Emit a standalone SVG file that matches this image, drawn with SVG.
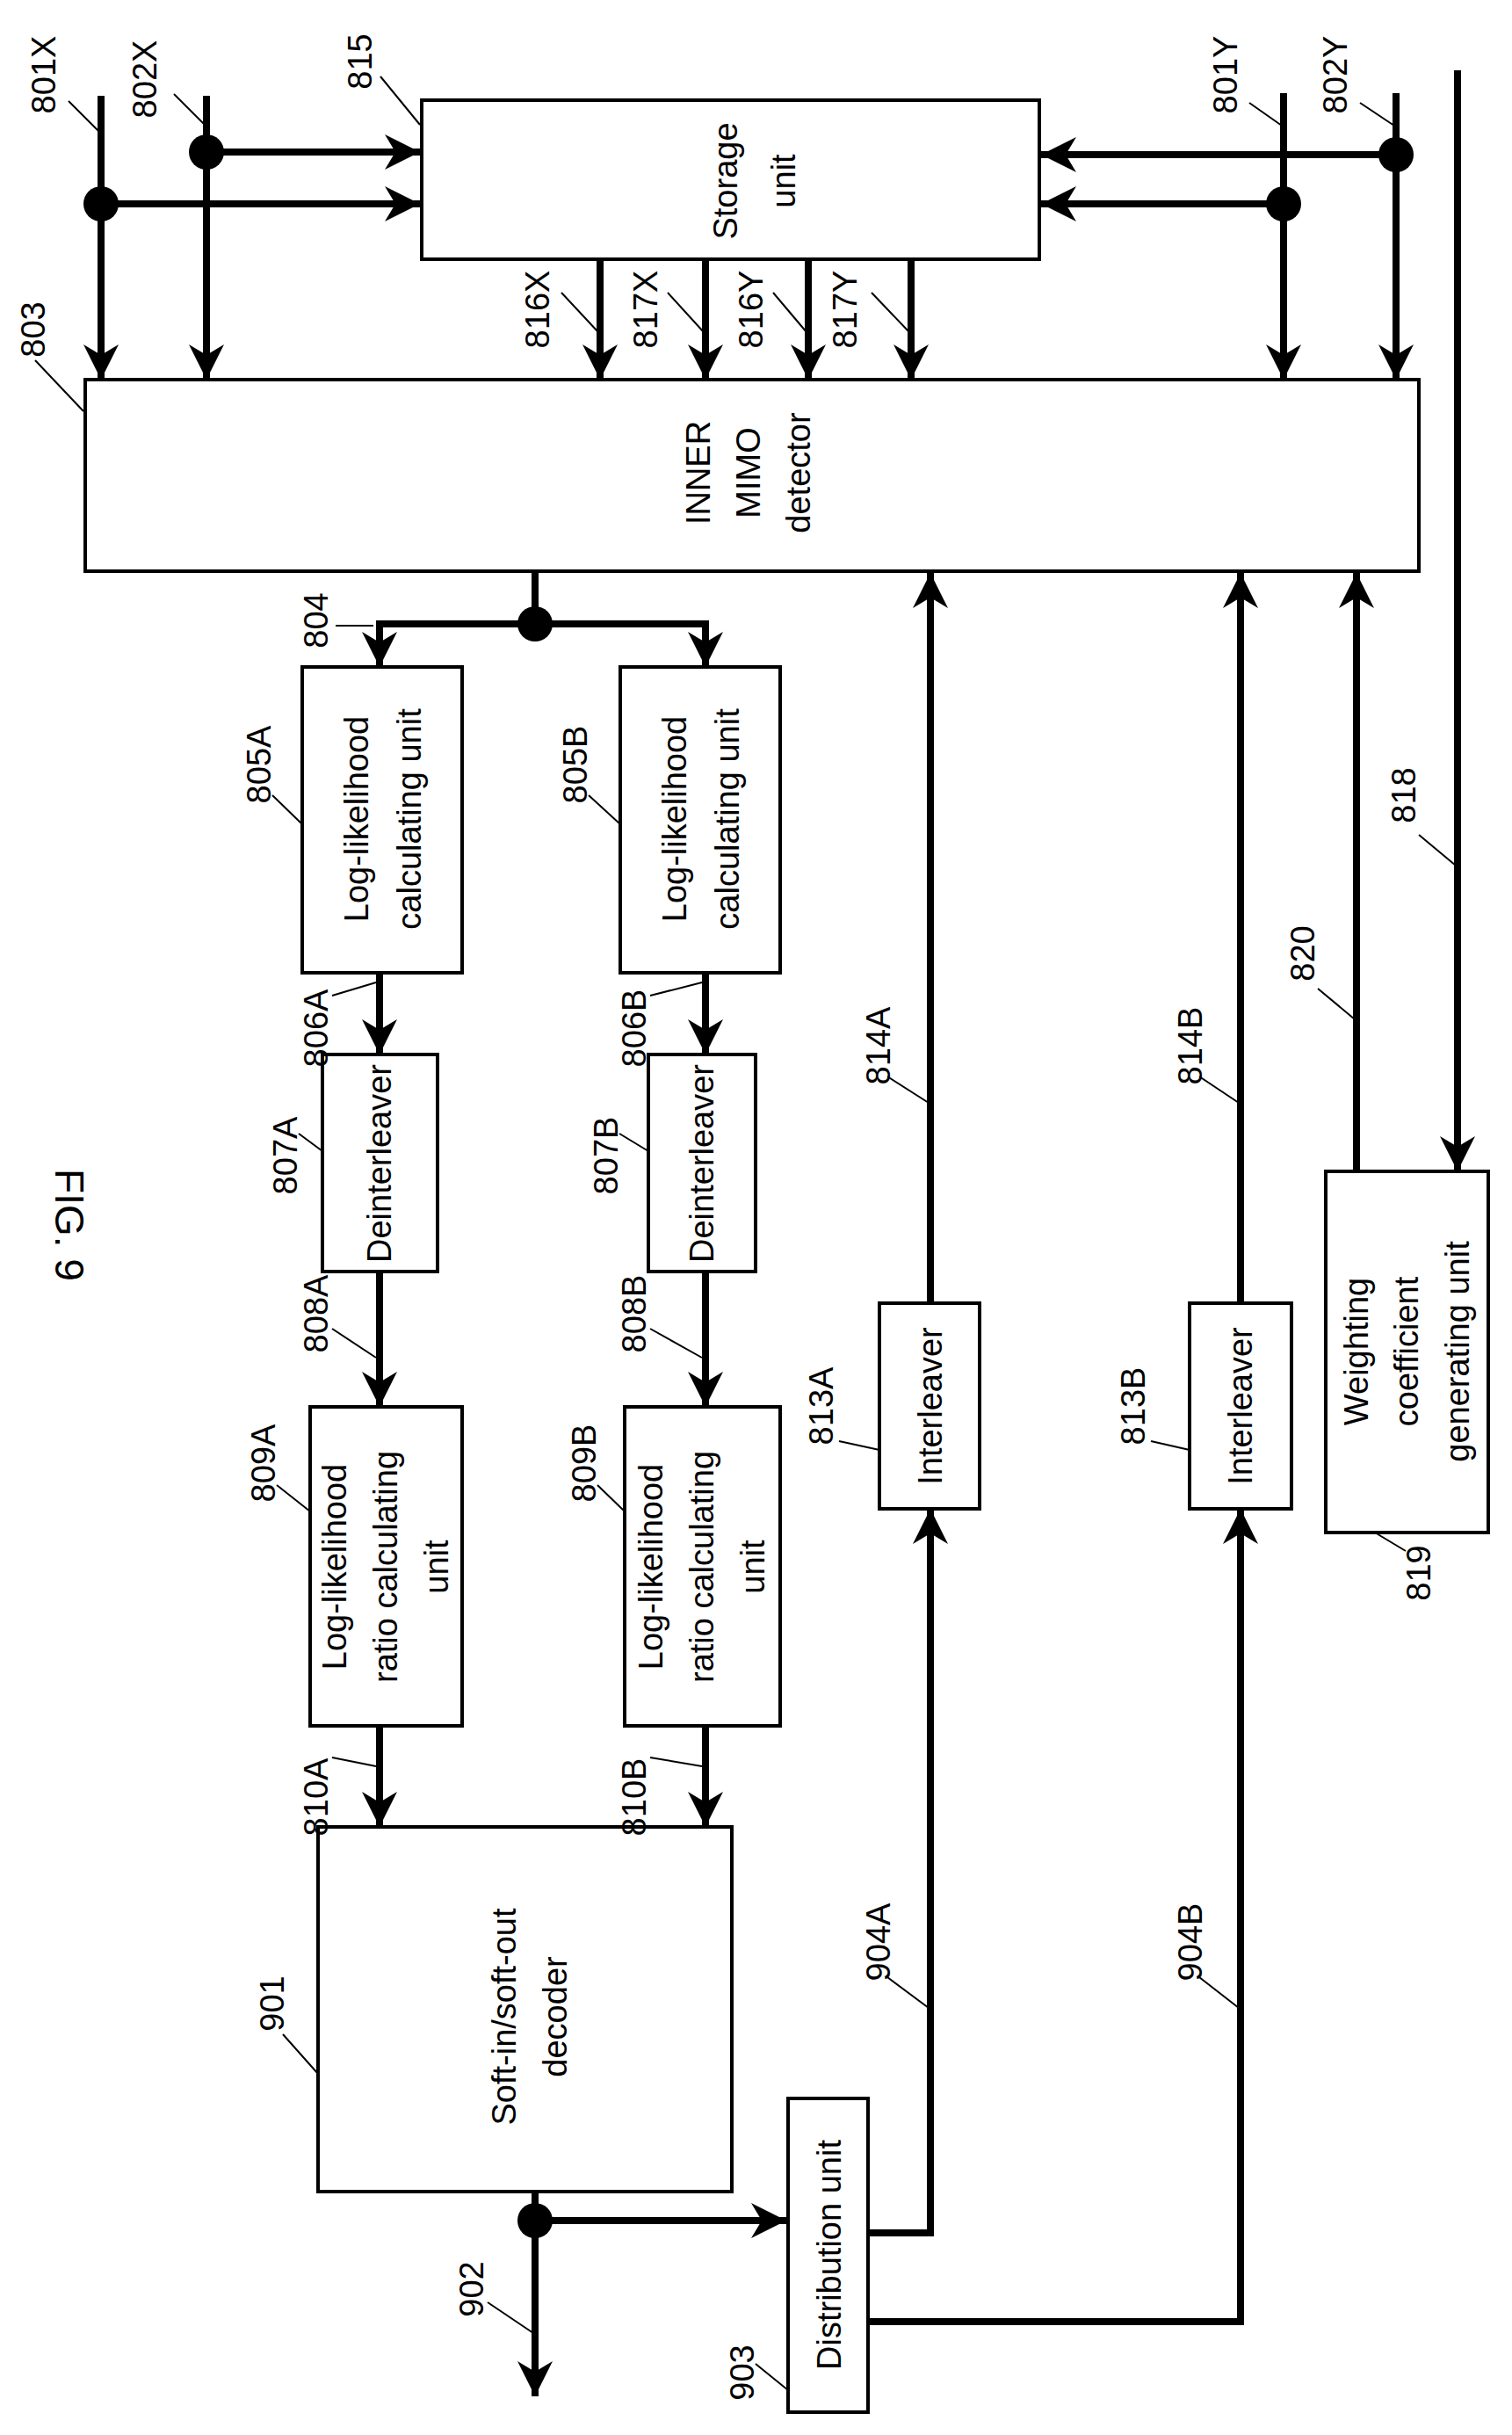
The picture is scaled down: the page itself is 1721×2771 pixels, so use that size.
<svg xmlns="http://www.w3.org/2000/svg" width="1721" height="2771" viewBox="0 0 1721 2771">
<defs>
<marker id="ah" viewBox="0 0 10 10" refX="10" refY="5" markerWidth="5" markerHeight="5" markerUnits="strokeWidth" orient="auto"><path d="M0,0 L10,5 L0,10 L3,5 z" fill="#000"/></marker>
<style>
.box{fill:#fff;stroke:#000;stroke-width:4}
.w{fill:none;stroke:#000;stroke-width:8}
.a{fill:none;stroke:#000;stroke-width:8;marker-end:url(#ah)}
.ld{fill:none;stroke:#000;stroke-width:2}
text{font-family:"Liberation Sans",Arial,sans-serif;font-size:38px;text-anchor:middle;dominant-baseline:central;fill:#000}
.big{font-size:46px}
</style>
</defs>
<rect width="1721" height="2771" fill="#fff"/>
<g id="connectors">
<path class="a" d="M115,109 V432"/>
<path class="a" d="M235,109 V432"/>
<path class="a" d="M235,173 H478"/>
<path class="a" d="M115,232 H478"/>
<path class="a" d="M683,295 V432"/>
<path class="a" d="M803,295 V432"/>
<path class="a" d="M920,295 V432"/>
<path class="a" d="M1037,295 V432"/>
<path class="a" d="M1461,106 V432"/>
<path class="a" d="M1589,106 V432"/>
<path class="a" d="M1589,176 H1185"/>
<path class="a" d="M1461,232 H1185"/>
<path class="w" d="M1659,80 V1300"/>
<path class="a" d="M1659,1200 V1333"/>
<path class="w" d="M609,650 V710"/>
<path class="a" d="M609,710 H432 V759"/>
<path class="a" d="M609,710 H803 V759"/>
<path class="a" d="M432,1107 V1200"/>
<path class="a" d="M803,1107 V1200"/>
<path class="a" d="M432,1447 V1601"/>
<path class="a" d="M803,1447 V1601"/>
<path class="a" d="M432,1964 V2079"/>
<path class="a" d="M803,1964 V2079"/>
<path class="a" d="M609,2494 V2727"/>
<path class="a" d="M609,2527 H895"/>
<path class="a" d="M988,2541 H1059 V1717"/>
<path class="a" d="M1059,1483 V652"/>
<path class="a" d="M988,2642 H1412 V1717"/>
<path class="a" d="M1412,1483 V652"/>
<path class="a" d="M1544,1333 V652"/>
<ellipse cx="235" cy="173" rx="20" ry="20"/>
<ellipse cx="115" cy="232" rx="20" ry="20"/>
<ellipse cx="1589" cy="176" rx="20" ry="20"/>
<ellipse cx="1461" cy="232" rx="20" ry="20"/>
<ellipse cx="609" cy="710" rx="20" ry="20"/>
<ellipse cx="609" cy="2527" rx="20" ry="20"/>
</g>
<g id="n815"><rect class="box" x="480" y="114" width="703" height="181"/>
<text transform="translate(826,206) rotate(-90)">Storage</text><text transform="translate(892,206) rotate(-90)">unit</text></g>
<g id="n803"><rect class="box" x="97" y="432" width="1518" height="218"/>
<text transform="translate(795,538) rotate(-90)">INNER</text><text transform="translate(852,538) rotate(-90)">MIMO</text><text transform="translate(909,538) rotate(-90)">detector</text></g>
<g id="n805A"><rect class="box" x="344" y="759" width="182" height="348"/>
<text transform="translate(406,932) rotate(-90)">Log-likelihood</text><text transform="translate(466,932) rotate(-90)">calculating unit</text></g>
<g id="n805B"><rect class="box" x="706" y="759" width="182" height="348"/>
<text transform="translate(768,932) rotate(-90)">Log-likelihood</text><text transform="translate(828,932) rotate(-90)">calculating unit</text></g>
<g id="n807A"><rect class="box" x="367" y="1200" width="131" height="247"/>
<text transform="translate(432,1324) rotate(-90)">Deinterleaver</text></g>
<g id="n807B"><rect class="box" x="738" y="1200" width="122" height="247"/>
<text transform="translate(799,1324) rotate(-90)">Deinterleaver</text></g>
<g id="n809A"><rect class="box" x="353" y="1601" width="173" height="363"/>
<text transform="translate(381,1783) rotate(-90)">Log-likelihood</text><text transform="translate(439,1783) rotate(-90)">ratio calculating</text><text transform="translate(497,1783) rotate(-90)">unit</text></g>
<g id="n809B"><rect class="box" x="711" y="1601" width="177" height="363"/>
<text transform="translate(741,1783) rotate(-90)">Log-likelihood</text><text transform="translate(799,1783) rotate(-90)">ratio calculating</text><text transform="translate(857,1783) rotate(-90)">unit</text></g>
<g id="n901"><rect class="box" x="362" y="2079" width="471" height="415"/>
<text transform="translate(574,2295) rotate(-90)">Soft-in/soft-out</text><text transform="translate(632,2295) rotate(-90)">decoder</text></g>
<g id="n903"><rect class="box" x="897" y="2388" width="91" height="357"/>
<text transform="translate(944,2566) rotate(-90)">Distribution unit</text></g>
<g id="n813A"><rect class="box" x="1001" y="1483" width="114" height="234"/>
<text transform="translate(1059,1600) rotate(-90)">Interleaver</text></g>
<g id="n813B"><rect class="box" x="1354" y="1483" width="116" height="234"/>
<text transform="translate(1412,1600) rotate(-90)">Interleaver</text></g>
<g id="n819"><rect class="box" x="1509" y="1333" width="185" height="411"/>
<text transform="translate(1544,1538) rotate(-90)">Weighting</text><text transform="translate(1601,1538) rotate(-90)">coefficient</text><text transform="translate(1659,1538) rotate(-90)">generating unit</text></g>
<g id="labels">
<text class="big" transform="translate(79,1394) rotate(90)">FIG. 9</text>
<text transform="translate(50,85) rotate(-90)">801X</text><path class="ld" d="M78,115 L113,150"/>
<text transform="translate(165,90) rotate(-90)">802X</text><path class="ld" d="M198,107 L233,142"/>
<text transform="translate(410,70) rotate(-90)">815</text><path class="ld" d="M433,87 L478,142"/>
<text transform="translate(38,375) rotate(-90)">803</text><path class="ld" d="M40,410 L95,468"/>
<text transform="translate(612,352) rotate(-90)">816X</text><path class="ld" d="M639,333 L681,378"/>
<text transform="translate(735,352) rotate(-90)">817X</text><path class="ld" d="M760,333 L801,378"/>
<text transform="translate(855,352) rotate(-90)">816Y</text><path class="ld" d="M880,333 L918,378"/>
<text transform="translate(962,352) rotate(-90)">817Y</text><path class="ld" d="M992,333 L1035,378"/>
<text transform="translate(1395,85) rotate(-90)">801Y</text><path class="ld" d="M1422,117 L1459,143"/>
<text transform="translate(1520,85) rotate(-90)">802Y</text><path class="ld" d="M1548,117 L1587,143"/>
<text transform="translate(360,706) rotate(-90)">804</text><path class="ld" d="M382,712 L425,712"/>
<text transform="translate(295,870) rotate(-90)">805A</text><path class="ld" d="M310,905 L344,938"/>
<text transform="translate(655,870) rotate(-90)">805B</text><path class="ld" d="M670,905 L706,938"/>
<text transform="translate(360,1170) rotate(-90)">806A</text><path class="ld" d="M378,1133 L428,1118"/>
<text transform="translate(722,1170) rotate(-90)">806B</text><path class="ld" d="M740,1133 L799,1118"/>
<text transform="translate(325,1315) rotate(-90)">807A</text><path class="ld" d="M340,1290 L367,1310"/>
<text transform="translate(690,1315) rotate(-90)">807B</text><path class="ld" d="M705,1290 L738,1310"/>
<text transform="translate(360,1495) rotate(-90)">808A</text><path class="ld" d="M378,1512 L428,1545"/>
<text transform="translate(722,1495) rotate(-90)">808B</text><path class="ld" d="M740,1512 L799,1545"/>
<text transform="translate(300,1665) rotate(-90)">809A</text><path class="ld" d="M315,1690 L353,1720"/>
<text transform="translate(665,1665) rotate(-90)">809B</text><path class="ld" d="M680,1690 L711,1720"/>
<text transform="translate(360,2045) rotate(-90)">810A</text><path class="ld" d="M378,2000 L428,2010"/>
<text transform="translate(722,2045) rotate(-90)">810B</text><path class="ld" d="M740,2000 L799,2010"/>
<text transform="translate(935,1600) rotate(-90)">813A</text><path class="ld" d="M955,1640 L1001,1650"/>
<text transform="translate(1290,1600) rotate(-90)">813B</text><path class="ld" d="M1310,1640 L1354,1650"/>
<text transform="translate(1000,1190) rotate(-90)">814A</text><path class="ld" d="M1010,1225 L1057,1255"/>
<text transform="translate(1355,1190) rotate(-90)">814B</text><path class="ld" d="M1365,1225 L1410,1255"/>
<text transform="translate(1598,905) rotate(-90)">818</text><path class="ld" d="M1615,950 L1657,985"/>
<text transform="translate(1483,1085) rotate(-90)">820</text><path class="ld" d="M1500,1125 L1542,1160"/>
<text transform="translate(1615,1790) rotate(-90)">819</text><path class="ld" d="M1565,1744 L1600,1765"/>
<text transform="translate(310,2280) rotate(-90)">901</text><path class="ld" d="M322,2315 L362,2360"/>
<text transform="translate(537,2605) rotate(-90)">902</text><path class="ld" d="M555,2620 L607,2655"/>
<text transform="translate(845,2700) rotate(-90)">903</text><path class="ld" d="M860,2690 L897,2720"/>
<text transform="translate(1000,2210) rotate(-90)">904A</text><path class="ld" d="M1010,2250 L1057,2285"/>
<text transform="translate(1355,2210) rotate(-90)">904B</text><path class="ld" d="M1365,2250 L1410,2285"/>
</g>
</svg>
